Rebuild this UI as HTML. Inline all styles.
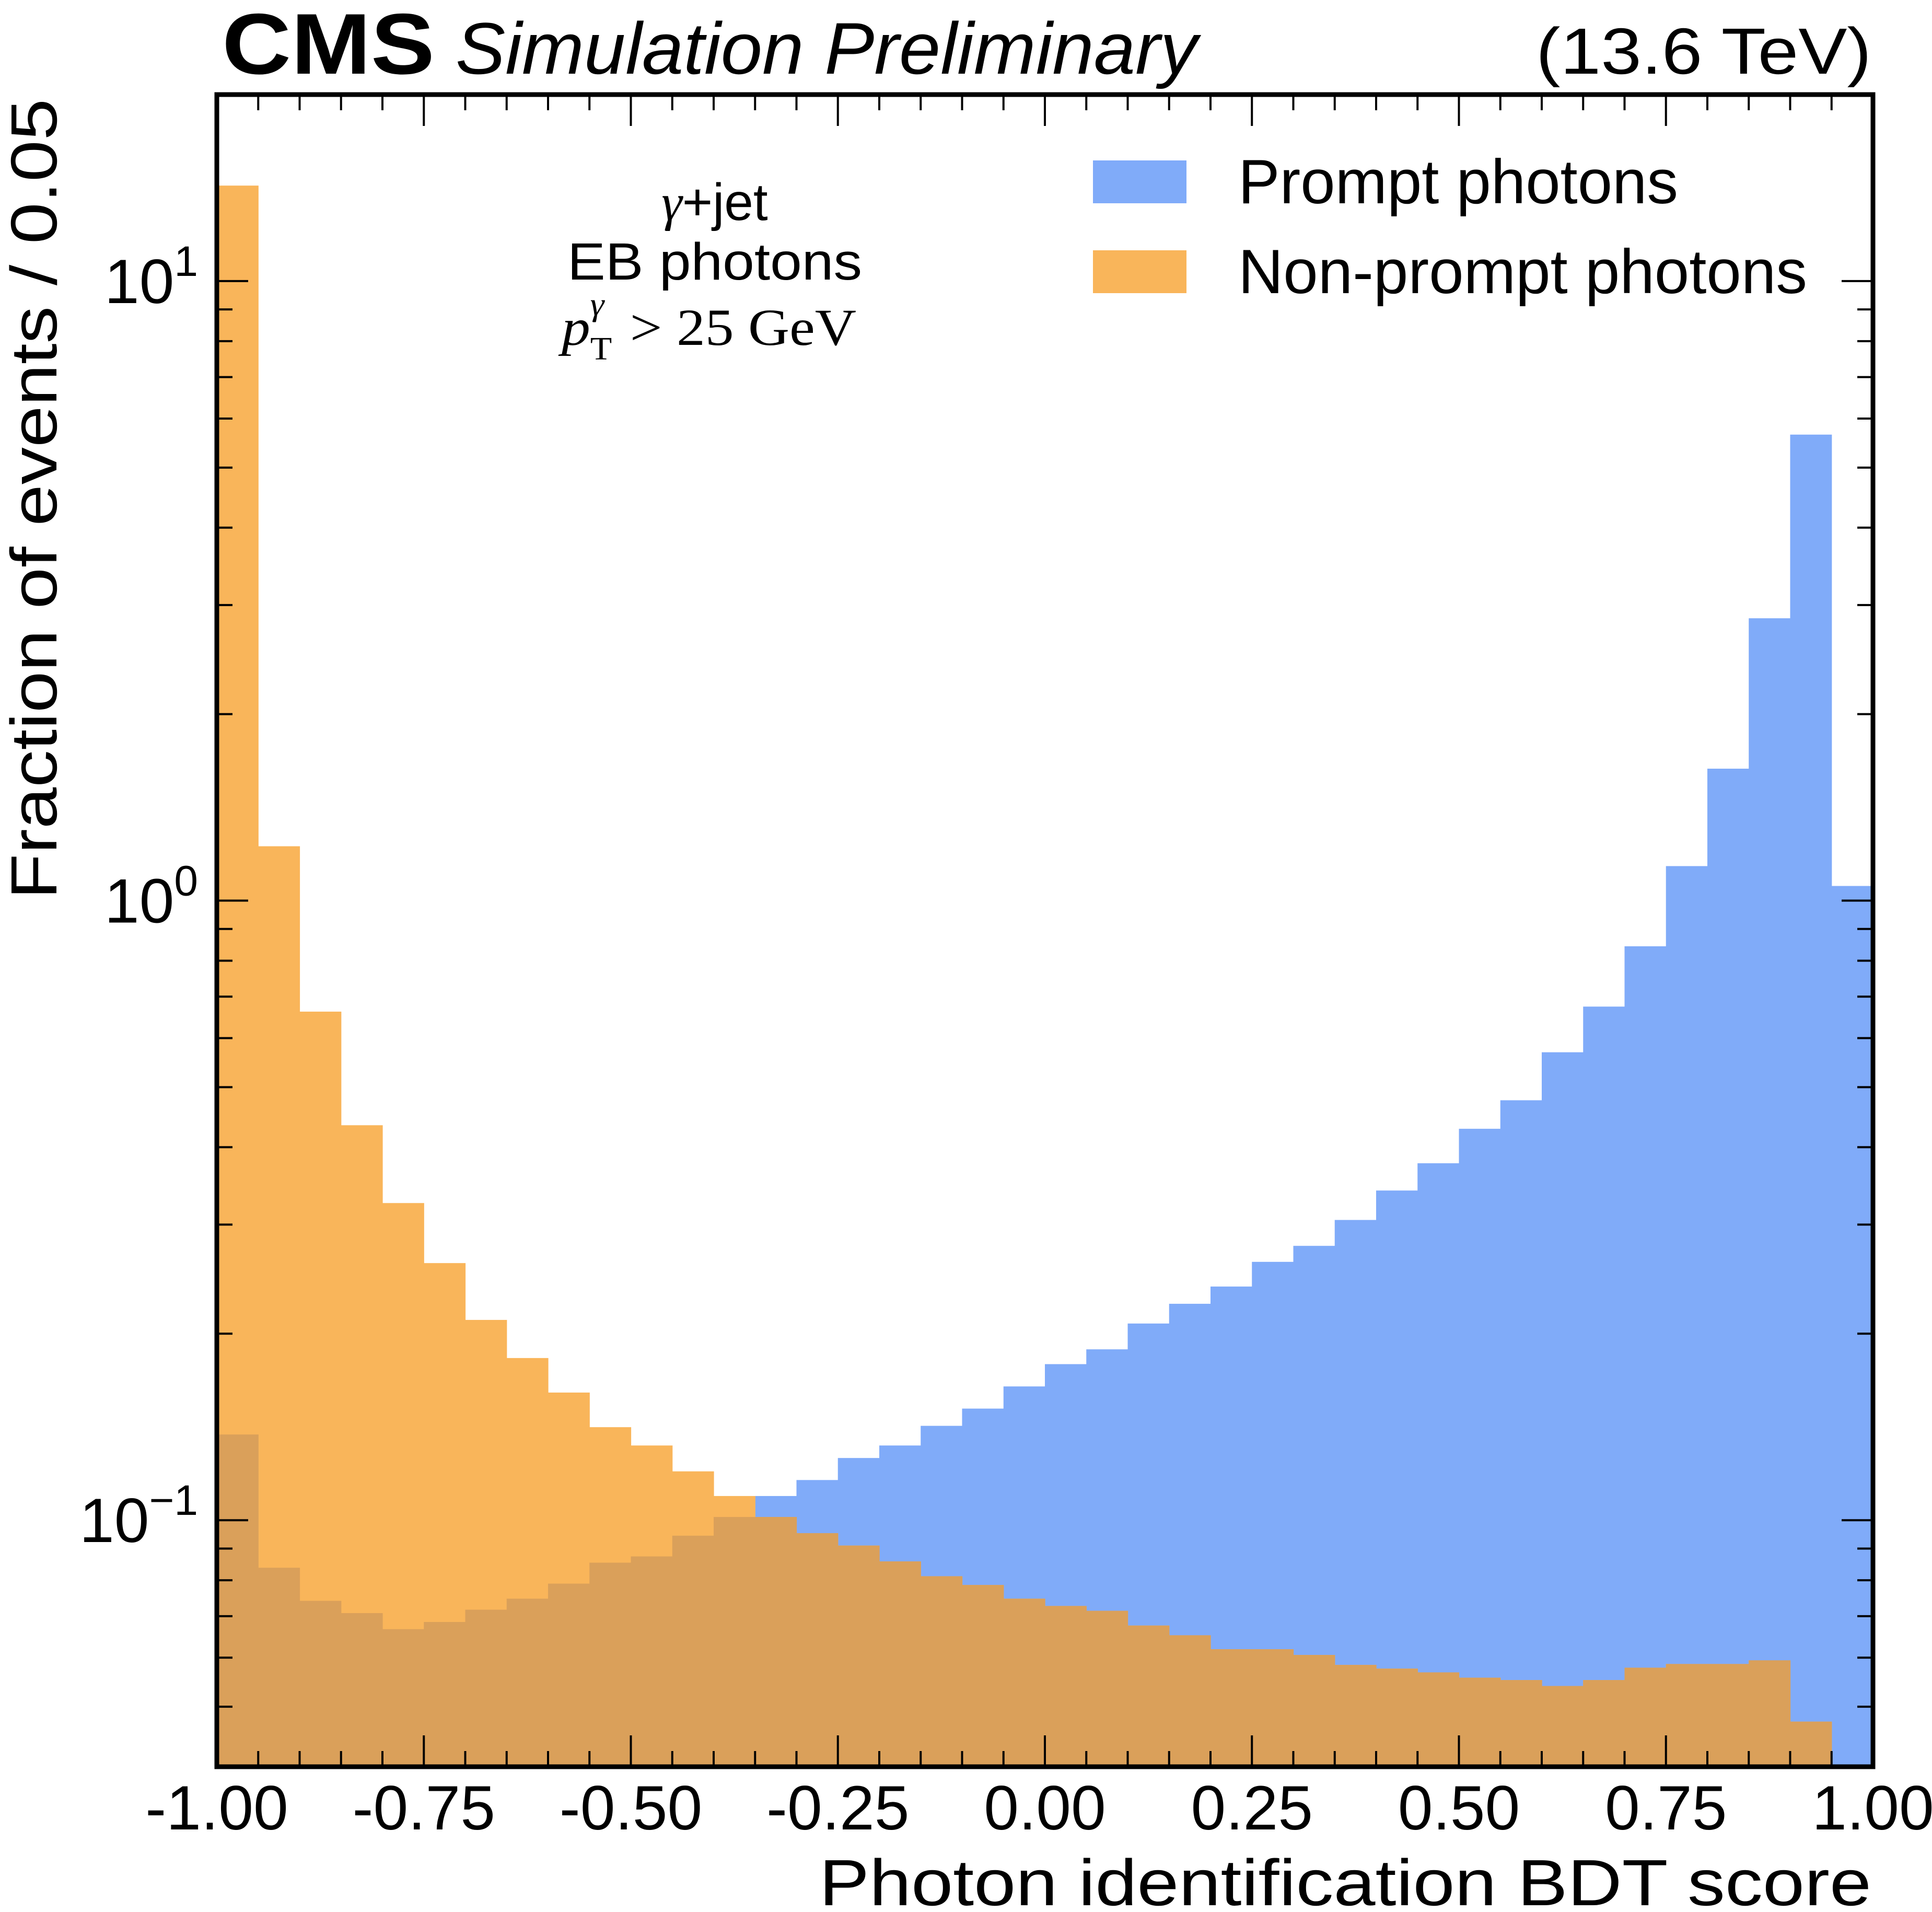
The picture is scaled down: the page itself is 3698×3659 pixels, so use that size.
<!DOCTYPE html>
<html><head><meta charset="utf-8"><style>
html,body{margin:0;padding:0;background:#fff;}
svg{display:block;}
text{font-family:"Liberation Sans",sans-serif;fill:#000;}
</style></head><body>
<svg id="chart" width="3698" height="3659" viewBox="0 0 3698 3659" xmlns="http://www.w3.org/2000/svg">
<g id="bars"></g>
<g id="axes"></g>
<text x="425" y="141" font-size="165" font-weight="bold" textLength="407" lengthAdjust="spacingAndGlyphs">CMS</text>
<text x="872" y="141" font-size="140" font-style="italic" textLength="1420" lengthAdjust="spacingAndGlyphs">Simulation Preliminary</text>
<text x="2940" y="141" font-size="125" textLength="642" lengthAdjust="spacingAndGlyphs">(13.6 TeV)</text>
<text transform="translate(108,189) rotate(-90)" font-size="125" text-anchor="end" textLength="1532" lengthAdjust="spacingAndGlyphs">Fraction of events / 0.05</text>
<text x="3582" y="3646" font-size="125" text-anchor="end" textLength="2014" lengthAdjust="spacingAndGlyphs">Photon identification BDT score</text>
<g>
<text x="1368" y="421" font-size="100" text-anchor="middle"><tspan font-family="Liberation Serif" font-style="italic">γ</tspan>+jet</text>
<text x="1368" y="535" font-size="100" text-anchor="middle" textLength="564" lengthAdjust="spacingAndGlyphs">EB photons</text>
<text x="1075" y="660" font-size="100" font-family="Liberation Serif" style="font-family:'Liberation Serif',serif" textLength="564" lengthAdjust="spacingAndGlyphs"><tspan font-style="italic">p</tspan><tspan font-size="62" dy="28">T</tspan><tspan font-size="62" font-style="italic" dx="-38" dy="-85">γ</tspan><tspan dy="57" dx="20"> &gt; 25 GeV</tspan></text>
</g>
<g>
<rect x="2092" y="307" width="179" height="82" fill="#80abf9"/>
<text x="2370" y="389" font-size="120" textLength="842" lengthAdjust="spacingAndGlyphs">Prompt photons</text>
<rect x="2092" y="479" width="179" height="82" fill="#f9b55a"/>
<text x="2370" y="561" font-size="120" textLength="1089" lengthAdjust="spacingAndGlyphs">Non-prompt photons</text>
</g>
</svg>
<script>
const binEdgesStart = -1.0;
const binWidth = 0.05;
const promptValues = [0.1375,0.0838,0.0741,0.0708,0.0667,0.0685,0.0717,0.0747,0.0790,0.0854,0.0874,0.0944,0.1012,0.1094,0.1161,0.1260,0.1320,0.1420,0.1514,0.1644,0.1786,0.1887,0.2077,0.2235,0.2383,0.2612,0.2772,0.3052,0.3405,0.3768,0.4283,0.4762,0.5692,0.6745,0.8440,1.137,1.633,2.856,5.652,1.056];
const nonPromptValues = [14.26,1.224,0.662,0.434,0.325,0.260,0.2105,0.1827,0.1607,0.1413,0.1320,0.1199,0.1094,0.1012,0.0953,0.0910,0.0858,0.0812,0.0786,0.0747,0.0727,0.0714,0.0676,0.0652,0.0619,0.0619,0.0606,0.0584,0.0576,0.0568,0.0557,0.0552,0.0540,0.0552,0.0578,0.0586,0.0586,0.0594,0.0473,0.030];
const xTickLabels = ["-1.00","-0.75","-0.50","-0.25","0.00","0.25","0.50","0.75","1.00"];
const xTickValues = [-1,-0.75,-0.5,-0.25,0,0.25,0.5,0.75,1];
const yDecades = [-1,0,1];

const L=415,R=3585,T=181,B=3381,XMIN=-1,XMAX=1,YMIN=0.04,YMAX=20;
const NS='http://www.w3.org/2000/svg';
function xs(v){return L+(v-XMIN)/(XMAX-XMIN)*(R-L);}
function ys(v){const c=Math.max(v,YMIN*0.5);return B-(Math.log10(c)-Math.log10(YMIN))/(Math.log10(YMAX)-Math.log10(YMIN))*(B-T);}
function mk(tag,attrs,parent){const e=document.createElementNS(NS,tag);for(const k in attrs)e.setAttribute(k,attrs[k]);parent.appendChild(e);return e;}
const bars=document.getElementById('bars');
function drawSeries(vals,color,name){
  vals.forEach((v,i)=>{
    const x0=xs(binEdgesStart+i*binWidth),x1=xs(binEdgesStart+(i+1)*binWidth);
    const y=Math.max(ys(v),T);
    if(y>=B)return;
    const r=mk('rect',{x:x0,y:y,width:x1-x0+0.6,height:B-y,fill:color},bars);
    
    
  });
}
drawSeries(promptValues,'#80abf9','prompt');
drawSeries(nonPromptValues,'#f9b55a','nonprompt');
drawSeries(promptValues.map((v,i)=>Math.min(v,nonPromptValues[i])),'#daa05a','overlap');

const ax=document.getElementById('axes');
for(let i=0;i<=40;i++){
  const v=XMIN+i*0.05, x=xs(v), major=(i%5===0);
  const len=major?60:30;
  const t1=mk('line',{x1:x,x2:x,y1:B,y2:B-len,stroke:'#000','stroke-width':4},ax);
  
  
  const t2=mk('line',{x1:x,x2:x,y1:T,y2:T+len,stroke:'#000','stroke-width':4},ax);
  
  
}
xTickValues.forEach((v,i)=>{
  const t=mk('text',{x:xs(v),y:3501,'font-size':120,'text-anchor':'middle'},ax);
  t.textContent=xTickLabels[i];
  
  
});
for(let d=-2;d<=1;d++){
  for(let m=1;m<=9;m++){
    const v=m*Math.pow(10,d);
    if(v<YMIN||v>YMAX)continue;
    const y=ys(v), len=(m===1)?60:30;
    const a=mk('line',{x1:L,x2:L+len,y1:y,y2:y,stroke:'#000','stroke-width':4},ax);
    
    
    const b=mk('line',{x1:R,x2:R-len,y1:y,y2:y,stroke:'#000','stroke-width':4},ax);
    
    
  }
}
yDecades.forEach(d=>{
  const y=ys(Math.pow(10,d));
  const t=mk('text',{x:379,y:y+42,'font-size':120,'text-anchor':'end'},ax);
  
  
  const base=document.createElementNS(NS,'tspan');base.textContent='10';t.appendChild(base);
  const sup=document.createElementNS(NS,'tspan');sup.setAttribute('font-size','82');sup.setAttribute('dy','-52');
  sup.textContent=(d<0?'\u2212':'')+Math.abs(d);t.appendChild(sup);
});
const fr=mk('rect',{x:L,y:T,width:R-L,height:B-T,fill:'none',stroke:'#000','stroke-width':9},ax);


</script>
</body></html>
